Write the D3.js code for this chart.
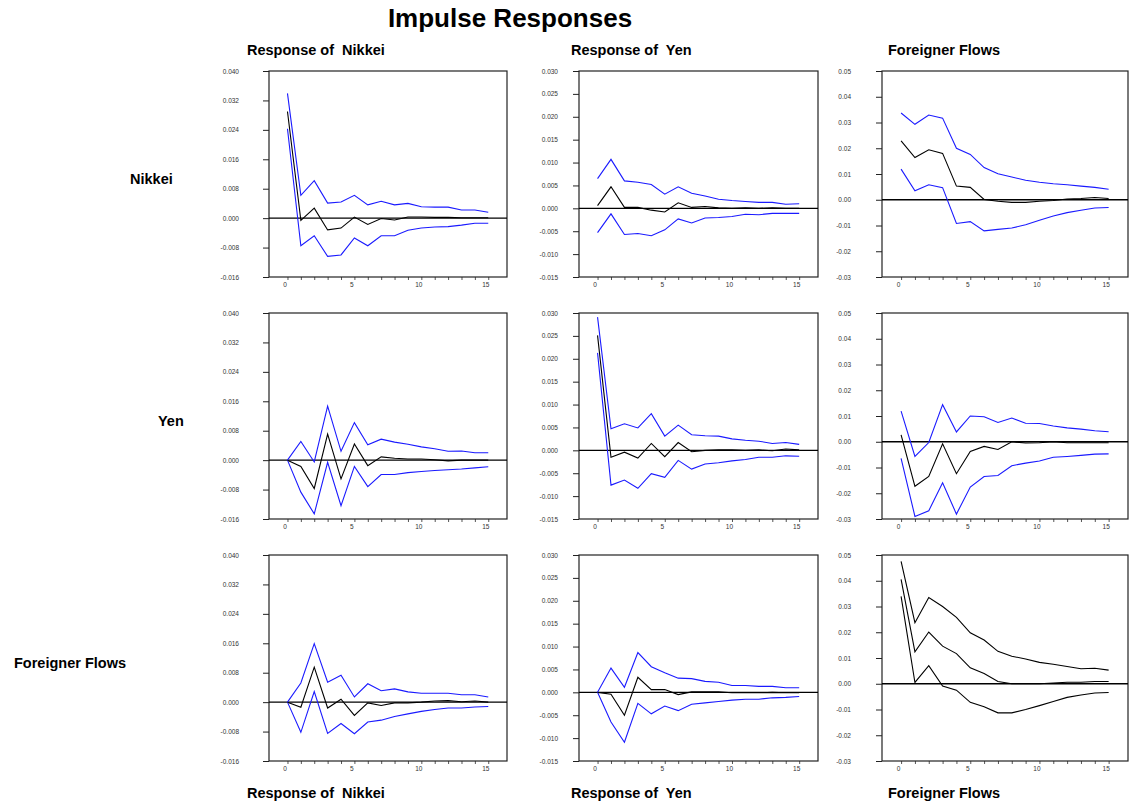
<!DOCTYPE html>
<html>
<head>
<meta charset="utf-8">
<script src="https://cdn.jsdelivr.net/npm/d3@7"></script>
<style>
    body { margin: 0; background: #fff; }
    text { font-family: "Liberation Sans", Arial, sans-serif; }
</style>
</head>
<body>
<svg id="chart" width="1130" height="812"></svg>
<script>
var periods = d3.range( 0, 16 );
var xTicks = [ 0, 5, 10, 15 ];

var shockNames = [ "Nikkei", "Yen", "Foreigner Flows" ];
var responseNames = [ "Response of  Nikkei", "Response of  Yen", "Foreigner Flows" ];

var nikkeiTicks = [ -0.016, -0.008, 0, 0.008, 0.016, 0.024, 0.032, 0.040 ];
var yenTicks = [ -0.015, -0.010, -0.005, 0, 0.005, 0.010, 0.015, 0.020, 0.025, 0.030 ];
var flowTicks = [ -0.03, -0.02, -0.01, 0, 0.01, 0.02, 0.03, 0.04, 0.05 ];

// shock: Nikkei
var nikNikResp = [ 0.0290, -0.0006, 0.0027, -0.0032, -0.0027, 0.0003, -0.0017, -0.0001, -0.0005, 0.0003, 0.0003, 0.0002, 0.0002, 0.0001, 0.0001, 0.0001 ];
var nikNikHi = [ 0.0339, 0.0062, 0.0102, 0.0041, 0.0044, 0.0062, 0.0036, 0.0046, 0.0036, 0.0040, 0.0031, 0.0030, 0.0030, 0.0022, 0.0022, 0.0016 ];
var nikNikLo = [ 0.0243, -0.0075, -0.0048, -0.0104, -0.0100, -0.0054, -0.0075, -0.0048, -0.0048, -0.0033, -0.0027, -0.0024, -0.0023, -0.0019, -0.0014, -0.0014 ];

var nikYenResp = [ 0.0006, 0.0047, 0.0002, 0.0002, -0.0004, -0.0008, 0.0012, 0.0002, 0.0004, 0.0001, 0.0000, 0.0001, 0.0000, 0.0001, 0.0000, 0.0000 ];
var nikYenHi = [ 0.0065, 0.0107, 0.0060, 0.0057, 0.0052, 0.0031, 0.0047, 0.0033, 0.0027, 0.0020, 0.0017, 0.0015, 0.0013, 0.0013, 0.0009, 0.0010 ];
var nikYenLo = [ -0.0053, -0.0012, -0.0057, -0.0055, -0.0060, -0.0047, -0.0023, -0.0032, -0.0021, -0.0020, -0.0018, -0.0013, -0.0014, -0.0011, -0.0011, -0.0011 ];

var nikFlowResp = [ 0.0229, 0.0164, 0.0194, 0.0180, 0.0053, 0.0048, 0.0001, -0.0006, -0.0010, -0.0010, -0.0006, -0.0003, 0.0003, 0.0005, 0.0009, 0.0005 ];
var nikFlowHi = [ 0.0337, 0.0293, 0.0329, 0.0317, 0.0200, 0.0176, 0.0125, 0.0101, 0.0088, 0.0076, 0.0068, 0.0062, 0.0058, 0.0053, 0.0048, 0.0041 ];
var nikFlowLo = [ 0.0119, 0.0035, 0.0058, 0.0047, -0.0092, -0.0085, -0.0121, -0.0115, -0.0110, -0.0097, -0.0080, -0.0063, -0.0050, -0.0041, -0.0032, -0.0030 ];

// shock: Yen
var yenNikResp = [ 0, -0.0017, -0.0077, 0.0071, -0.0051, 0.0044, -0.0015, 0.0009, 0.0005, 0.0003, 0.0003, 0.0001, -0.0002, 0, 0, 0 ];
var yenNikHi = [ 0, 0.0051, -0.0005, 0.0147, 0.0024, 0.0102, 0.0042, 0.0057, 0.0049, 0.0043, 0.0036, 0.0031, 0.0024, 0.0025, 0.0020, 0.0020 ];
var yenNikLo = [ 0, -0.0087, -0.0146, -0.0006, -0.0124, -0.0017, -0.0072, -0.0039, -0.0039, -0.0034, -0.0031, -0.0028, -0.0026, -0.0024, -0.0021, -0.0018 ];

var yenYenResp = [ 0.0251, -0.0015, -0.0004, -0.0017, 0.0015, -0.0014, 0.0017, -0.0003, 0, 0.0001, 0.0001, 0, 0.0001, -0.0001, 0.0003, 0.0001 ];
var yenYenHi = [ 0.0291, 0.0047, 0.0058, 0.0049, 0.0080, 0.0031, 0.0055, 0.0034, 0.0032, 0.0031, 0.0025, 0.0022, 0.0020, 0.0015, 0.0017, 0.0013 ];
var yenYenLo = [ 0.0213, -0.0076, -0.0065, -0.0083, -0.0051, -0.0059, -0.0022, -0.0041, -0.0030, -0.0027, -0.0023, -0.0020, -0.0015, -0.0015, -0.0012, -0.0013 ];

var yenFlowResp = [ 0.0027, -0.0173, -0.0135, -0.0008, -0.0124, -0.0038, -0.0018, -0.0030, 0, -0.0005, -0.0004, 0, -0.0004, -0.0004, -0.0004, -0.0004 ];
var yenFlowHi = [ 0.0119, -0.0057, -0.0003, 0.0144, 0.0038, 0.0100, 0.0097, 0.0075, 0.0092, 0.0072, 0.0071, 0.0061, 0.0054, 0.0049, 0.0043, 0.0039 ];
var yenFlowLo = [ -0.0065, -0.0290, -0.0268, -0.0159, -0.0281, -0.0176, -0.0135, -0.0131, -0.0093, -0.0083, -0.0075, -0.0060, -0.0057, -0.0053, -0.0048, -0.0047 ];

// shock: Foreigner Flows
var flowNikResp = [ 0, -0.0014, 0.0095, -0.0016, 0.0008, -0.0036, -0.0002, -0.0009, -0.0002, -0.0002, 0, 0.0003, 0.0004, 0.0001, 0.0003, 0 ];
var flowNikHi = [ 0, 0.0052, 0.0159, 0.0054, 0.0073, 0.0014, 0.0050, 0.0031, 0.0036, 0.0028, 0.0024, 0.0024, 0.0024, 0.0020, 0.0020, 0.0014 ];
var flowNikLo = [ 0, -0.0082, 0.0029, -0.0085, -0.0058, -0.0086, -0.0054, -0.0049, -0.0039, -0.0032, -0.0025, -0.0020, -0.0016, -0.0016, -0.0013, -0.0012 ];

var flowYenResp = [ 0, -0.0004, -0.0050, 0.0033, 0.0006, 0.0006, -0.0005, 0.0001, 0.0001, 0.0001, -0.0001, -0.0001, -0.0001, 0, -0.0001, -0.0001 ];
var flowYenHi = [ 0, 0.0053, 0.0011, 0.0087, 0.0056, 0.0043, 0.0031, 0.0030, 0.0024, 0.0022, 0.0015, 0.0015, 0.0013, 0.0013, 0.0010, 0.0010 ];
var flowYenLo = [ 0, -0.0065, -0.0109, -0.0024, -0.0047, -0.0030, -0.0040, -0.0026, -0.0023, -0.0020, -0.0017, -0.0015, -0.0015, -0.0012, -0.0011, -0.0009 ];

var flowFlowResp = [ 0.0405, 0.0124, 0.0201, 0.0146, 0.0117, 0.0062, 0.0040, 0.0009, 0, 0, 0, 0.0003, 0.0006, 0.0006, 0.0009, 0.0009 ];
var flowFlowHi = [ 0.0475, 0.0237, 0.0335, 0.0300, 0.0258, 0.0198, 0.0170, 0.0126, 0.0107, 0.0096, 0.0083, 0.0076, 0.0067, 0.0058, 0.0060, 0.0053 ];
var flowFlowLo = [ 0.0339, 0.0005, 0.0070, -0.0009, -0.0025, -0.0072, -0.0089, -0.0113, -0.0113, -0.0100, -0.0085, -0.0069, -0.0053, -0.0044, -0.0036, -0.0034 ];

(function () {
    var svg = d3.select( "#chart" );

    var fmtLocale = d3.formatLocale( { decimal: ".", thousands: ",", grouping: [ 3 ], currency: [ "", "" ], minus: "-" } );

    var colLeft = [ 269, 579, 882 ];
    var colRight = [ 507, 818, 1128 ];
    var rowTop = [ 71, 313, 555 ];
    var panelH = 206;
    var labelPad = [ 24, 15, 25 ];
    var colTicks = [ nikkeiTicks, yenTicks, flowTicks ];
    var colFormat = [ fmtLocale.format( ".3f" ), fmtLocale.format( ".3f" ), fmtLocale.format( ".2f" ) ];

    var panels = [
        [ [ nikNikLo, nikNikResp, nikNikHi ], [ nikYenLo, nikYenResp, nikYenHi ], [ nikFlowLo, nikFlowResp, nikFlowHi ] ],
        [ [ yenNikLo, yenNikResp, yenNikHi ], [ yenYenLo, yenYenResp, yenYenHi ], [ yenFlowLo, yenFlowResp, yenFlowHi ] ],
        [ [ flowNikLo, flowNikResp, flowNikHi ], [ flowYenLo, flowYenResp, flowYenHi ], [ flowFlowLo, flowFlowResp, flowFlowHi ] ]
    ];

    // titles
    svg.append( "text" )
        .attr( "x", 510 ).attr( "y", 27 )
        .attr( "text-anchor", "middle" )
        .style( "font-size", "26px" ).style( "font-weight", "bold" )
        .text( "Impulse Responses" );

    var headX = [ 247, 571, 888 ];
    [ 55, 798 ].forEach( function ( y ) {
        responseNames.forEach( function ( name, i ) {
            svg.append( "text" )
                .attr( "x", headX[ i ] ).attr( "y", y )
                .attr( "xml:space", "preserve" )
                .style( "white-space", "pre" )
                .style( "font-size", "14.5px" ).style( "font-weight", "bold" )
                .text( name );
        })
    })

    var rowLabelX = [ 130, 158, 14 ];
    shockNames.forEach( function ( name, r ) {
        svg.append( "text" )
            .attr( "x", rowLabelX[ r ] ).attr( "y", rowTop[ r ] + 113 )
            .style( "font-size", "14.5px" ).style( "font-weight", "bold" )
            .text( name );
    })

    panels.forEach( function ( row, r ) {
        row.forEach( function ( series, c ) {
            var ticks = colTicks[ c ];
            var x = d3.scaleLinear()
                .domain( [ -1.38, 16.4 ] )
                .range( [ colLeft[ c ], colRight[ c ] ] );
            var y = d3.scaleLinear()
                .domain( [ ticks[ 0 ], ticks[ ticks.length - 1 ] ] )
                .range( [ rowTop[ r ] + panelH, rowTop[ r ] ] );

            var g = svg.append( "g" );

            var yAxis = g.append( "g" )
                .attr( "transform", "translate(" + colLeft[ c ] + ",0)" )
                .call( d3.axisLeft( y ).tickValues( ticks ).tickFormat( colFormat[ c ] )
                    .tickSize( 6 ).tickSizeOuter( 0 ).tickPadding( labelPad[ c ] ) );
            yAxis.select( ".domain" ).remove();
            yAxis.selectAll( "text" )
                .style( "font-size", "6.5px" ).style( "font-family", "Liberation Sans, Arial, sans-serif" )
                .style( "fill", "#333" );
            yAxis.selectAll( "line" ).style( "stroke", "#222" );

            var xBottom = rowTop[ r ] + panelH;
            var xMinor = g.append( "g" )
                .attr( "transform", "translate(0," + xBottom + ")" )
                .call( d3.axisBottom( x ).tickValues( periods ).tickFormat( "" ).tickSize( 3 ).tickSizeOuter( 0 ) );
            xMinor.select( ".domain" ).remove();
            xMinor.selectAll( "line" ).style( "stroke", "#555" );

            var xAxis = g.append( "g" )
                .attr( "transform", "translate(-3," + xBottom + ")" )
                .call( d3.axisBottom( x ).tickValues( xTicks ).tickSize( 0 ).tickPadding( 5 ) );
            xAxis.select( ".domain" ).remove();
            xAxis.selectAll( "text" )
                .style( "font-size", "6.5px" ).style( "font-family", "Liberation Sans, Arial, sans-serif" )
                .style( "fill", "#333" );

            // frame
            g.append( "rect" )
                .attr( "x", colLeft[ c ] ).attr( "y", rowTop[ r ] )
                .attr( "width", colRight[ c ] - colLeft[ c ] ).attr( "height", panelH )
                .style( "fill", "none" ).style( "stroke", "#222" ).style( "stroke-width", 1.2 );

            // zero line
            g.append( "line" )
                .attr( "x1", colLeft[ c ] ).attr( "x2", colRight[ c ] )
                .attr( "y1", y( 0 ) ).attr( "y2", y( 0 ) )
                .style( "stroke", "#000" ).style( "stroke-width", 1.4 );

            var line = d3.line()
                .x( function ( d, i ) { return x( periods[ i ] ) } )
                .y( function ( d ) { return y( d ) } );

            var bandColor = ( r === 2 && c === 2 ) ? "#000" : "#1a1aff";
            g.selectAll( "path.irf" )
                .data( series )
                .enter().append( "path" )
                .attr( "class", "irf" )
                .attr( "d", line )
                .style( "fill", "none" )
                .style( "stroke-width", 1.1 )
                .style( "stroke", function ( d, i ) { return i === 1 ? "#000" : bandColor } );
        })
    })
})();
</script>
</body>
</html>
